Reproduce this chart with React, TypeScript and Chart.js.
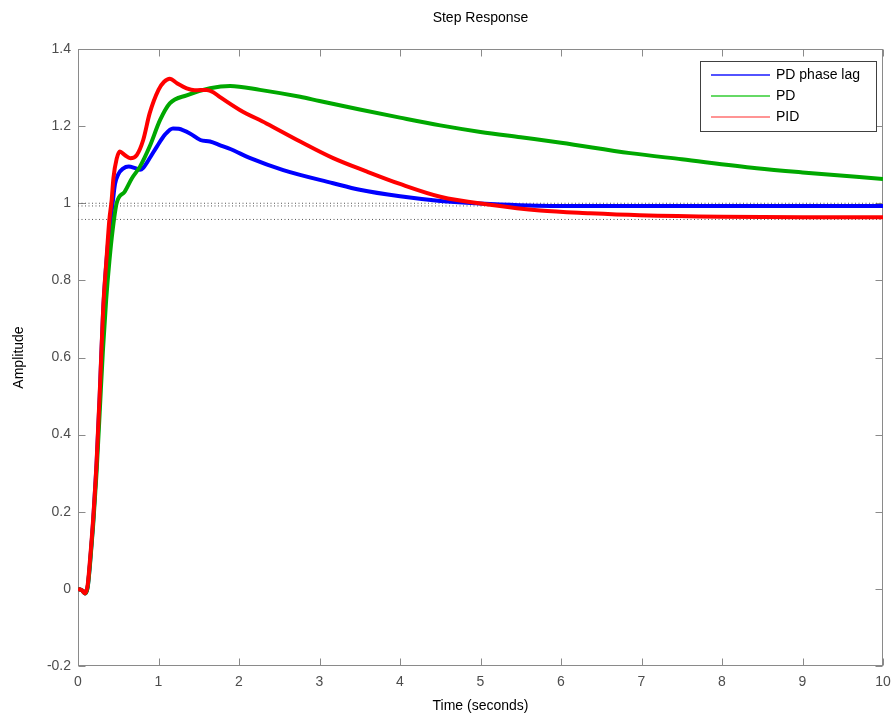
import React, { useEffect, useRef } from 'react';
import { Chart, registerables } from 'chart.js';

Chart.register(...registerables);

const TITLE = 'Step Response';
const X_TITLE = 'Time (seconds)';
const Y_TITLE = 'Amplitude';
const SERIES_NAMES = ['PD phase lag', 'PD', 'PID'];
const SERIES_COLORS = ['#0000ff', '#00a800', '#ff0000'];
const LEGEND_COLORS = ['#1a1aff', '#33cc33', '#ff7070'];

const T_LAG = [0, 0.05, 0.087, 0.12, 0.15, 0.19, 0.23, 0.27, 0.31, 0.35, 0.39, 0.43, 0.46, 0.5, 0.56, 0.63, 0.71, 0.77, 0.81, 0.9, 0.98, 1.08, 1.18, 1.25, 1.39, 1.52, 1.64, 1.76, 1.9, 2.14, 2.55, 3.17, 3.5, 4.0, 4.5, 5.12, 5.95, 7, 8, 9, 10];
const Y_LAG = [0, -0.004, -0.012, 0.005, 0.07, 0.18, 0.32, 0.5, 0.71, 0.84, 0.93, 1.0, 1.05, 1.075, 1.09, 1.095, 1.091, 1.087, 1.092, 1.12, 1.147, 1.178, 1.194, 1.193, 1.181, 1.164, 1.16, 1.151, 1.14, 1.117, 1.086, 1.052, 1.035, 1.018, 1.006, 0.998, 0.993, 0.993, 0.993, 0.993, 0.993];

const T_PD = [0, 0.05, 0.087, 0.12, 0.15, 0.19, 0.23, 0.27, 0.31, 0.35, 0.39, 0.43, 0.48, 0.58, 0.67, 0.77, 0.89, 1.02, 1.14, 1.35, 1.64, 1.89, 2.26, 2.76, 3.0, 3.5, 4.0, 4.5, 5.0, 5.5, 6.0, 6.86, 7.5, 8.43, 9.0, 10];
const Y_PD = [0, -0.004, -0.012, 0.004, 0.065, 0.17, 0.3, 0.46, 0.62, 0.75, 0.85, 0.93, 1.0, 1.03, 1.065, 1.095, 1.147, 1.216, 1.259, 1.28, 1.298, 1.304, 1.294, 1.276, 1.265, 1.243, 1.222, 1.202, 1.185, 1.171, 1.157, 1.13, 1.114, 1.091, 1.08, 1.063];

const T_PID = [0, 0.05, 0.087, 0.12, 0.149, 0.19, 0.232, 0.273, 0.314, 0.356, 0.389, 0.418, 0.44, 0.48, 0.52, 0.58, 0.65, 0.73, 0.81, 0.89, 1.0, 1.07, 1.14, 1.23, 1.35, 1.45, 1.6, 1.68, 1.76, 2.01, 2.34, 2.76, 3.17, 3.59, 4.0, 4.5, 5.12, 5.74, 6.36, 6.98, 8, 9, 10];
const Y_PID = [0, -0.004, -0.012, 0.01, 0.075, 0.187, 0.334, 0.524, 0.732, 0.861, 0.956, 1.008, 1.065, 1.115, 1.134, 1.125, 1.117, 1.125, 1.164, 1.233, 1.294, 1.315, 1.323, 1.311, 1.298, 1.293, 1.294, 1.288, 1.276, 1.242, 1.207, 1.16, 1.117, 1.082, 1.05, 1.017, 0.996, 0.981, 0.974, 0.969, 0.965, 0.964, 0.964];

const REF_LEVELS = [1.0, 0.993, 0.958];

const X_MIN = 0, X_MAX = 10, X_STEP = 1;
const Y_MIN = -0.2, Y_MAX = 1.4, Y_STEP = 0.2;

const FONT = '"Liberation Sans", Arial, sans-serif';

const zip = (t: number[], y: number[]) => t.map((x, i) => ({ x, y: y[i] }));

const framePlugin = {
  id: 'frame',
  beforeDatasetsDraw(chart: any) {
    const { ctx, chartArea: a, scales } = chart;
    ctx.save();
    ctx.strokeStyle = '#8a8a8a';
    ctx.lineWidth = 1;
    const L = Math.round(a.left) + 0.5, R = Math.round(a.right) - 0.5;
    const T = Math.round(a.top) + 0.5, B = Math.round(a.bottom) - 0.5;
    ctx.strokeRect(L, T, R - L, B - T);
    const tl = 7;
    ctx.beginPath();
    scales.x.ticks.forEach((tk: any) => {
      const px = Math.round(scales.x.getPixelForValue(tk.value)) + 0.5;
      ctx.moveTo(px, B); ctx.lineTo(px, B - tl);
      ctx.moveTo(px, T); ctx.lineTo(px, T + tl);
    });
    scales.y.ticks.forEach((tk: any) => {
      const py = Math.round(scales.y.getPixelForValue(tk.value)) + 0.5;
      ctx.moveTo(L, py); ctx.lineTo(L + tl, py);
      ctx.moveTo(R, py); ctx.lineTo(R - tl, py);
    });
    ctx.stroke();
    ctx.restore();
  },
  afterDraw(chart: any) {
    const { ctx, chartArea: a } = chart;
    ctx.save();
    ctx.fillStyle = '#000';
    ctx.font = `14px ${FONT}`;
    ctx.textAlign = 'center';
    ctx.textBaseline = 'middle';
    const cx = (a.left + a.right) / 2;
    ctx.fillText(TITLE, cx, 18);
    ctx.fillText(X_TITLE, cx, 706);
    ctx.save();
    ctx.translate(19, (a.top + a.bottom) / 2);
    ctx.rotate(-Math.PI / 2);
    ctx.fillText(Y_TITLE, 0, 0);
    ctx.restore();

    // legend
    const bx = 700, by = 61, bw = 176, bh = 70;
    ctx.fillStyle = '#fff';
    ctx.fillRect(bx, by, bw, bh);
    ctx.strokeStyle = '#404040';
    ctx.lineWidth = 1;
    ctx.strokeRect(bx + 0.5, by + 0.5, bw, bh);
    const rows = [75, 96, 117];
    ctx.textAlign = 'left';
    SERIES_NAMES.forEach((name, i) => {
      ctx.strokeStyle = LEGEND_COLORS[i];
      ctx.lineWidth = 1.5;
      ctx.beginPath();
      ctx.moveTo(711, rows[i]);
      ctx.lineTo(770, rows[i]);
      ctx.stroke();
      ctx.fillStyle = '#000';
      ctx.fillText(name, 776, rows[i]);
    });
    ctx.restore();
  },
};

export default function App() {
  const ref = useRef<HTMLCanvasElement | null>(null);
  useEffect(() => {
    if (!ref.current) return;
    const series = [zip(T_LAG, Y_LAG), zip(T_PD, Y_PD), zip(T_PID, Y_PID)];
    const datasets: any[] = series.map((d, i) => ({
      label: SERIES_NAMES[i],
      data: d,
      borderColor: SERIES_COLORS[i],
      backgroundColor: SERIES_COLORS[i],
      borderWidth: 4,
      pointRadius: 0,
      cubicInterpolationMode: 'monotone',
      fill: false,
      order: 3 - i,
    }));
    REF_LEVELS.forEach((lv) => {
      datasets.push({
        label: 'ref',
        data: [{ x: X_MIN, y: lv }, { x: X_MAX, y: lv }],
        borderColor: '#555',
        borderWidth: 1,
        borderDash: [1, 2.5],
        pointRadius: 0,
        fill: false,
        order: 10,
      });
    });
    const chart = new Chart(ref.current, {
      type: 'line',
      data: { datasets },
      options: {
        animation: false,
        responsive: false,
        devicePixelRatio: 1,
        layout: { padding: { left: 0, right: 10, top: 49, bottom: 0 } },
        plugins: { legend: { display: false }, tooltip: { enabled: false }, title: { display: false } },
        scales: {
          x: {
            type: 'linear',
            min: X_MIN,
            max: X_MAX,
            grid: { display: false, drawTicks: false },
            border: { display: false },
            ticks: { stepSize: X_STEP, padding: 8, color: '#4d4d4d', font: { family: FONT, size: 14 }, maxRotation: 0 },
            afterFit: (s: any) => { s.height = 50; s.paddingRight = 0; s.paddingLeft = 0; },
          },
          y: {
            type: 'linear',
            min: Y_MIN,
            max: Y_MAX,
            grid: { display: false, drawTicks: false },
            border: { display: false },
            ticks: {
              stepSize: Y_STEP,
              padding: 7,
              color: '#4d4d4d',
              font: { family: FONT, size: 14 },
              callback: (v: any) => String(Math.round(Number(v) * 10) / 10),
            },
            afterFit: (s: any) => { s.width = 78; s.paddingTop = 0; s.paddingBottom = 0; },
          },
        },
      },
      plugins: [framePlugin],
    });
    return () => chart.destroy();
  }, []);
  return (
    <div style={{ position: 'fixed', left: 0, top: 0, width: 893, height: 716, background: '#fff' }}>
      <canvas ref={ref} width={893} height={716} />
    </div>
  );
}
